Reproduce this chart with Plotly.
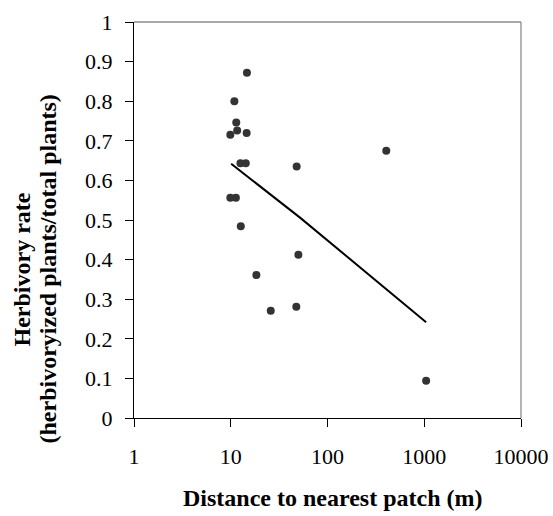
import plotly.graph_objects as go

# Data
distance_m = [14.7, 10.9, 11.4, 11.65, 9.9, 14.6, 12.6, 14.3, 48.0, 9.9, 11.3,
              12.7, 18.4, 25.9, 47.6, 50.0, 405.0, 1046.0]
herbivory_rate = [0.872, 0.800, 0.746, 0.726, 0.715, 0.720, 0.643, 0.643, 0.635, 0.556, 0.556,
                  0.484, 0.361, 0.271, 0.281, 0.412, 0.675, 0.094]

trend_x = [10.1, 52.0, 1046.0]
trend_y = [0.642, 0.506, 0.242]

x_tick_vals = [1, 10, 100, 1000, 10000]
x_tick_text = ["1", "10", "100", "1000", "10000"]
y_tick_vals = [0, 0.1, 0.2, 0.3, 0.4, 0.5, 0.6, 0.7, 0.8, 0.9, 1]
y_tick_text = ["0", "0.1", "0.2", "0.3", "0.4", "0.5", "0.6", "0.7", "0.8", "0.9", "1"]

x_title = "Distance to nearest patch (m)"
y_title_1 = "Herbivory rate"
y_title_2 = "(herbivoryized plants/total plants)"

SERIF = "Liberation Serif"

fig = go.Figure()
fig.add_trace(go.Scatter(x=distance_m, y=herbivory_rate, mode="markers",
                         marker=dict(size=8, color="#333333"), showlegend=False))
fig.add_trace(go.Scatter(x=trend_x, y=trend_y, mode="lines",
                         line=dict(color="black", width=2), showlegend=False))

W, H = 553, 516
L, R, T, B = 134, 32, 22, 98
fig.update_layout(
    width=W, height=H,
    margin=dict(l=L, r=R, t=T, b=B, autoexpand=False),
    paper_bgcolor="white", plot_bgcolor="white",
    font=dict(family=SERIF, color="black"),
    xaxis=dict(type="log", range=[0, 4], tickvals=x_tick_vals, ticktext=x_tick_text,
               automargin=False,
               showgrid=False, zeroline=False, showline=True, linecolor="black", linewidth=1.3,
               ticks="outside", ticklen=8, tickcolor="black", tickwidth=1,
               tickfont=dict(family=SERIF, size=22, color="black"), ticklabelstandoff=10),
    yaxis=dict(range=[0, 1], tickvals=y_tick_vals, ticktext=y_tick_text,
               automargin=False,
               showgrid=False, zeroline=False, showline=True, linecolor="black", linewidth=1.3,
               ticks="outside", ticklen=8, tickcolor="black", tickwidth=1,
               tickfont=dict(family=SERIF, size=22, color="black"), ticklabelstandoff=8),
    shapes=[
        dict(type="line", xref="paper", yref="paper", x0=0, x1=1, y0=1, y1=1,
             line=dict(color="#8c8c8c", width=1.3)),
        dict(type="line", xref="paper", yref="paper", x0=1, x1=1, y0=0, y1=1,
             line=dict(color="#8c8c8c", width=1.3)),
    ],
    annotations=[
        dict(text="<b>" + x_title + "</b>", xref="paper", yref="paper", x=0.513, y=0,
             yshift=-65, xanchor="center", yanchor="top", showarrow=False,
             font=dict(family=SERIF, size=24, color="black")),
        dict(text="<b>" + y_title_1 + "</b>", xref="paper", yref="paper", x=0, y=0.375,
             xshift=-113, xanchor="center", yanchor="middle", textangle=-90, showarrow=False,
             font=dict(family=SERIF, size=24, color="black")),
        dict(text="<b>" + y_title_2 + "</b>", xref="paper", yref="paper", x=0, y=0.375,
             xshift=-87, xanchor="center", yanchor="middle", textangle=-90, showarrow=False,
             font=dict(family=SERIF, size=24, color="black")),
    ],
)

fig.write_html("out.html")
